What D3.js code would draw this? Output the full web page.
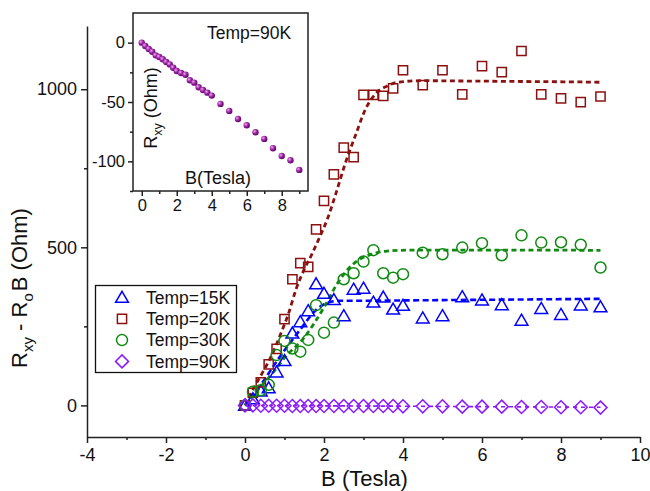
<!DOCTYPE html>
<html>
<head>
<meta charset="utf-8">
<script src="https://cdn.jsdelivr.net/npm/d3@7"></script>
<style>
  body { margin: 0; background: #fff; }
  svg { display: block; font-family: "Liberation Sans", Arial, sans-serif; }
</style>
</head>
<body>
<div id="chart"></div>
<script>
const width = 650;
const height = 491;

// field values (Tesla), shared by all temperatures
const bField = [0, 0.2, 0.4, 0.6, 0.8, 1.0, 1.2, 1.4, 1.6, 1.8, 2.0, 2.25, 2.5, 2.75, 3.0, 3.25, 3.5, 3.75, 4.0,
  4.5, 5, 5.5, 6, 6.5, 7, 7.5, 8, 8.5, 9];

const r15K = [0, 20, 45, 55, 105, 141, 228, 264, 299, 384, 354, 334, 283, 367, 370, 326, 342, 304, 316,
  276, 283, 343, 333, 318, 269, 306, 287, 317, 311];
const r20K = [0, 40, 73, 130, 179, 273, 399, 450, 438, 557, 647, 731, 815, 785, 982, 982, 979, 1003, 1060,
  1013, 1060, 984, 1073, 1054, 1121, 984, 971, 959, 977];
const r30K = [0, 43, 48, 65, 159, 204, 180, 170, 207, 317, 230, 262, 399, 418, 455, 491, 418, 404, 415,
  483, 478, 499, 513, 475, 538, 515, 516, 508, 436];
const r90K = [0, 0, -1, -1, -1, -1, -2, -2, -2, -2, -2, -2, -2, -2, -2, -2, -2, -2, -3,
  -3, -3, -4, -4, -4, -5, -5, -6, -6, -7];

// dashed fit curves
const fit15B = [0, 0.4, 0.85, 1.4, 1.8, 2.1, 2.4, 3, 4, 5, 6, 7, 8, 9];
const fit15V = [0, 65, 148, 240, 302, 325, 331, 331, 332, 333, 334, 335, 336, 337];
const fit20B = [0, 0.2, 0.45, 0.7, 0.9, 1.1, 1.3, 1.5, 1.7, 1.9, 2.1, 2.3, 2.55, 2.8, 3.05, 3.3, 3.6, 3.85, 4.5, 5.5, 6.5, 7.5, 8.5, 9];
const fit20V = [0, 50, 105, 165, 225, 290, 370, 430, 480, 535, 594, 670, 770, 855, 937, 985, 1010, 1022, 1027, 1026, 1025, 1024, 1023, 1022];
const fit30B = [0, 0.3, 0.75, 1.0, 1.5, 2.0, 2.35, 2.6, 2.85, 3.2, 3.6, 4.2, 5, 6, 7, 8, 9];
const fit30V = [0, 45, 110, 150, 215, 310, 388, 430, 458, 478, 488, 491, 491, 491, 491, 491, 490];
const fit90B = [0, 9];
const fit90V = [0, -6];

// inset: raw Rxy at 90 K
const insetB = bField;
const insetR = [0, -2.8, -5.3, -7.6, -10.7, -12.1, -14.0, -16.3, -18.3, -21.1, -23.9, -25.6, -27.0, -31.7, -33.7,
  -37.6, -39.9, -42.1, -44.6, -51.6, -57.5, -64.3, -69.6, -75.5, -81.1, -89.0, -95.5, -99.1, -107.2];

const xTicks = [-4, -2, 0, 2, 4, 6, 8, 10];
const xMinor = [-3, -1, 1, 3, 5, 7, 9];
const yTicks = [0, 500, 1000];
const yMinor = [250, 750];
const insetXTicks = [0, 2, 4, 6, 8];
const insetXMinor = [1, 3, 5, 7, 9];
const insetYTicks = [0, -50, -100];
const insetYMinor = [-25, -75, -125];

const series = [
  {label: "Temp=15K", vals: r15K, fitB: fit15B, fitV: fit15V, color: "#0000ff", shape: "triangle", dash: "6,3.5", lw: 2.6},
  {label: "Temp=20K", vals: r20K, fitB: fit20B, fitV: fit20V, color: "#8b1010", shape: "square", dash: "5,3.5", lw: 2.8},
  {label: "Temp=30K", vals: r30K, fitB: fit30B, fitV: fit30V, color: "#108a10", shape: "circle", dash: "5,3.5", lw: 2.8},
  {label: "Temp=90K", vals: r90K, fitB: fit90B, fitV: fit90V, color: "#8c1aff", shape: "diamond", dash: "4,4", lw: 1.6}
];

const shapes = {
  triangle: "M0,-6.2L6.4,4.8L-6.4,4.8Z",
  square: "M-4.6,-4.6H4.6V4.6H-4.6Z",
  circle: d3.symbol(d3.symbolCircle, 95)(),
  diamond: "M0,-6.5L6.5,0L0,6.5L-6.5,0Z"
};

// plain hyphen for negative numbers, as in the original
const plain = d => String(d);

const x = d3.scaleLinear().domain([-4, 10]).range([87, 640]);
const y = d3.scaleLinear().domain([-100, 1200]).range([437, 26]);

const xi = d3.scaleLinear().domain([-0.5, 9.5]).range([133, 308]);
const yi = d3.scaleLinear().domain([-125, 25]).range([191, 13]);

const svg = d3.select("#chart").append("svg")
  .attr("width", width)
  .attr("height", height)
  .attr("viewBox", [0, 0, width, height]);

const grad = svg.append("defs").append("radialGradient")
  .attr("id", "ball").attr("cx", "35%").attr("cy", "35%").attr("r", "65%");
grad.append("stop").attr("offset", "0%").attr("stop-color", "#e9a8ec");
grad.append("stop").attr("offset", "55%").attr("stop-color", "#9b1fa3");
grad.append("stop").attr("offset", "100%").attr("stop-color", "#5e0a66");

const styleAxis = (g, size) => {
  g.selectAll("path, line").attr("stroke", "#222").attr("stroke-width", 1.5);
  g.selectAll("text").attr("fill", "#111").attr("font-size", size)
    .attr("font-family", "'Liberation Sans', Arial, sans-serif");
};

// main axes
svg.append("g")
  .attr("transform", `translate(0,${y.range()[0]})`)
  .call(d3.axisBottom(x).tickValues(xTicks).tickSize(6).tickSizeOuter(0).tickPadding(5).tickFormat(plain))
  .call(g => styleAxis(g, 18));
svg.append("g")
  .attr("transform", `translate(0,${y.range()[0]})`)
  .call(d3.axisBottom(x).tickValues(xMinor).tickSize(3).tickFormat(""))
  .call(g => g.select(".domain").remove())
  .call(g => styleAxis(g, 18));

svg.append("g")
  .attr("transform", `translate(${x.range()[0]},0)`)
  .call(d3.axisLeft(y).tickValues(yTicks).tickSize(6).tickSizeOuter(0).tickPadding(4).tickFormat(plain))
  .call(g => styleAxis(g, 18));
svg.append("g")
  .attr("transform", `translate(${x.range()[0]},0)`)
  .call(d3.axisLeft(y).tickValues(yMinor).tickSize(3).tickFormat(""))
  .call(g => g.select(".domain").remove())
  .call(g => styleAxis(g, 18));

// axis titles
svg.append("text")
  .attr("x", (x(-4) + x(10)) / 2 + 1)
  .attr("y", 486)
  .attr("text-anchor", "middle")
  .attr("font-size", 22)
  .attr("fill", "#111")
  .text("B (Tesla)");

const yTitle = svg.append("text")
  .attr("transform", "translate(27,288) rotate(-90)")
  .attr("text-anchor", "middle")
  .attr("font-size", 22)
  .attr("fill", "#111");
yTitle.append("tspan").text("R");
yTitle.append("tspan").attr("font-size", 15).attr("dy", 6).text("xy");
yTitle.append("tspan").attr("dy", -6).text(" - R");
yTitle.append("tspan").attr("font-size", 15).attr("dy", 6).text("o");
yTitle.append("tspan").attr("dy", -6).attr("dx", 2).text("B (Ohm)");

// fit curves
const fitLine = d3.line().curve(d3.curveMonotoneX);
series.forEach(s => {
  svg.append("path")
    .attr("d", fitLine(s.fitB.map((b, i) => [x(b), y(s.fitV[i])])))
    .attr("fill", "none")
    .attr("stroke", s.color)
    .attr("stroke-width", s.lw)
    .attr("stroke-dasharray", s.dash);
});

// markers
series.forEach(s => {
  svg.append("g")
    .selectAll("path")
    .data(bField.map((b, i) => [b, s.vals[i]]))
    .join("path")
    .attr("transform", d => `translate(${x(d[0])},${y(d[1])})`)
    .attr("d", shapes[s.shape])
    .attr("fill", "none")
    .attr("stroke", s.color)
    .attr("stroke-width", 1.5);
});

// legend
const legend = svg.append("g");
legend.append("rect")
  .attr("x", 95.5).attr("y", 285.5)
  .attr("width", 141).attr("height", 87)
  .attr("fill", "#fff").attr("stroke", "#111").attr("stroke-width", 1.3);
series.forEach((s, i) => {
  const ly = 297.5 + i * 21.3;
  legend.append("path")
    .attr("transform", `translate(122,${ly})`)
    .attr("d", shapes[s.shape])
    .attr("fill", "none")
    .attr("stroke", s.color)
    .attr("stroke-width", 1.5);
  legend.append("text")
    .attr("x", 146).attr("y", ly + 6.3)
    .attr("font-size", 17.5)
    .attr("fill", "#111")
    .text(s.label);
});

// inset
const inset = svg.append("g");
inset.append("rect")
  .attr("x", xi.range()[0]).attr("y", yi.range()[1])
  .attr("width", xi.range()[1] - xi.range()[0])
  .attr("height", yi.range()[0] - yi.range()[1])
  .attr("fill", "#fff").attr("stroke", "#222").attr("stroke-width", 1.5);

inset.append("g")
  .attr("transform", `translate(0,${yi.range()[0]})`)
  .call(d3.axisBottom(xi).tickValues(insetXTicks).tickSize(5).tickSizeOuter(0).tickPadding(3).tickFormat(plain))
  .call(g => g.select(".domain").remove())
  .call(g => styleAxis(g, 16.5));
inset.append("g")
  .attr("transform", `translate(0,${yi.range()[0]})`)
  .call(d3.axisBottom(xi).tickValues(insetXMinor).tickSize(3).tickFormat(""))
  .call(g => g.select(".domain").remove())
  .call(g => styleAxis(g, 16.5));
inset.append("g")
  .attr("transform", `translate(${xi.range()[0]},0)`)
  .call(d3.axisLeft(yi).tickValues(insetYTicks).tickSize(5).tickSizeOuter(0).tickPadding(3).tickFormat(plain))
  .call(g => g.select(".domain").remove())
  .call(g => styleAxis(g, 16.5));
inset.append("g")
  .attr("transform", `translate(${xi.range()[0]},0)`)
  .call(d3.axisLeft(yi).tickValues(insetYMinor).tickSize(3).tickFormat(""))
  .call(g => g.select(".domain").remove())
  .call(g => styleAxis(g, 16.5));

inset.append("g")
  .selectAll("circle")
  .data(insetB.map((b, i) => [b, insetR[i]]))
  .join("circle")
  .attr("cx", d => xi(d[0]))
  .attr("cy", d => yi(d[1]))
  .attr("r", 3.2)
  .attr("fill", "url(#ball)");

inset.append("text")
  .attr("x", 207).attr("y", 39)
  .attr("font-size", 17.5)
  .attr("fill", "#111")
  .text("Temp=90K");

inset.append("text")
  .attr("x", 218).attr("y", 184)
  .attr("text-anchor", "middle")
  .attr("font-size", 18)
  .attr("fill", "#111")
  .text("B(Tesla)");

const insetYTitle = inset.append("text")
  .attr("transform", "translate(157,108) rotate(-90)")
  .attr("text-anchor", "middle")
  .attr("font-size", 18)
  .attr("fill", "#111");
insetYTitle.append("tspan").text("R");
insetYTitle.append("tspan").attr("font-size", 12.5).attr("dy", 5).text("xy");
insetYTitle.append("tspan").attr("dy", -5).text(" (Ohm)");
</script>
</body>
</html>
